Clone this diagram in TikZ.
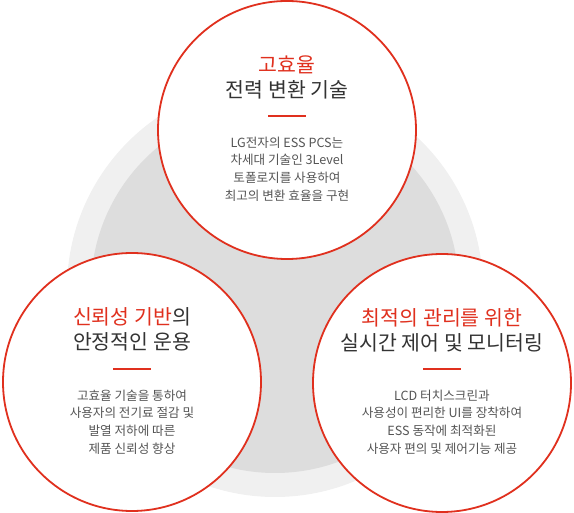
\documentclass[tikz,border=0pt]{standalone}
\usepackage{fontspec}
\setmainfont{Noto Sans CJK KR}
\usepackage{tikz}
\usetikzlibrary{positioning,calc}
\definecolor{accent}{HTML}{E0301E}
\definecolor{haloA}{HTML}{F0F0F0}
\definecolor{haloB}{HTML}{DDDDDD}
\definecolor{headtxt}{HTML}{333333}
\definecolor{bodytxt}{HTML}{555555}

\begin{document}
\begin{tikzpicture}[x=1pt,y=-1pt,
  ring/.style={circle,draw=accent,line width=1.8pt,fill=white,minimum size=258pt,inner sep=0pt},
  headline/.style={align=center,inner sep=0pt,text=headtxt,font=\fontsize{20.5}{25}\selectfont},
  bodyline/.style={align=center,inner sep=0pt,text=bodytxt,font=\fontsize{12.6}{17.8}\selectfont},
  rule/.style={accent,line width=2pt}]
\useasboundingbox (0,0) rectangle (574,513);
% soft backdrop behind the three rings
\fill[haloA] (275,289) circle (208pt);
\fill[haloB] (275,289) circle (184pt);
% top ring: conversion efficiency
\node[ring] (eff) at (287,130) {};
\node[headline] (effhead) at (287,77.5) {\textcolor{accent}{고효율}\\전력 변환 기술};
\draw[rule] ($(eff.center)+(-19,-14)$) -- ($(eff.center)+(19,-14)$);
\node[bodyline] (effbody) at (287,169) {LG전자의 ESS PCS는\\차세대 기술인 3Level\\토폴로지를 사용하여\\최고의 변환 효율을 구현};
% left ring: reliability
\node[ring] (rel) at (132,382) {};
\node[headline] (relhead) at (132,329.5) {\textcolor{accent}{신뢰성 기반}의\\안정적인 운용};
\draw[rule] ($(rel.center)+(-19,-13)$) -- ($(rel.center)+(19,-13)$);
\node[bodyline] (relbody) at (132,422) {고효율 기술을 통하여\\사용자의 전기료 절감 및\\발열 저하에 따른\\제품 신뢰성 향상};
% right ring: monitoring
\node[ring] (mon) at (442,383) {};
\node[headline] (monhead) at (442,330) {\textcolor{accent}{최적의 관리를 위한}\\실시간 제어 및 모니터링};
\draw[rule] ($(mon.center)+(-19,-14)$) -- ($(mon.center)+(19,-14)$);
\node[bodyline] (monbody) at (442,422) {LCD 터치스크린과\\사용성이 편리한 UI를 장착하여\\ESS 동작에 최적화된\\사용자 편의 및 제어기능 제공};
\end{tikzpicture}
\end{document}
